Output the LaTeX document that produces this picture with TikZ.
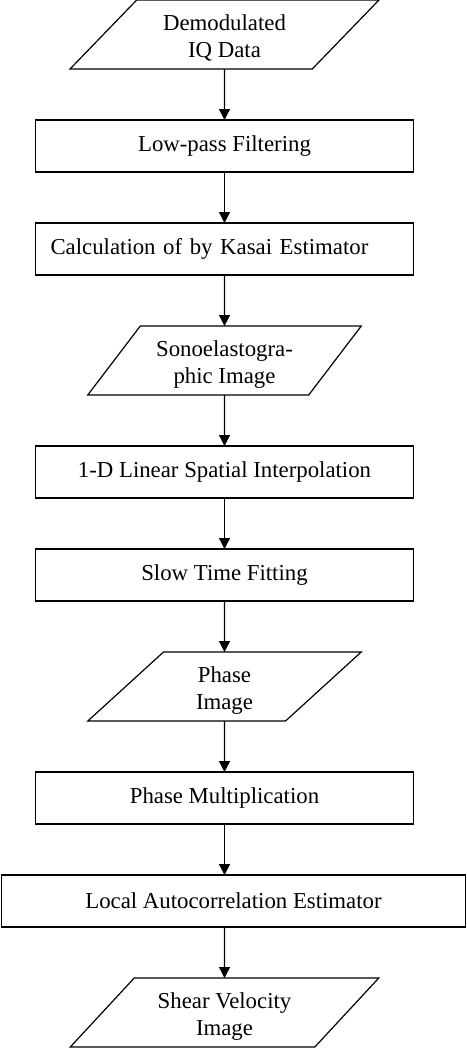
\documentclass[tikz,border=0pt]{standalone}
\usepackage{fontspec}
\setmainfont{Liberation Serif}
\usetikzlibrary{positioning,shapes.geometric,arrows.meta}

\begin{document}
\begin{tikzpicture}
       \newcommand{\nodesep}[0]{25.5pt}
       \newcommand{\nodename}[1]{\begin{tabular}{c}\rule{0pt}{13.45pt}#1\end{tabular}}

       \tikzstyle{block}     = [rectangle, draw, line width=0.6pt, outer sep=0pt, minimum width=189pt, minimum height=26pt, inner sep=0pt, font=\fontsize{11.4}{13.5}\selectfont]
       \tikzstyle{data}      = [trapezium, trapezium left angle=48, trapezium right angle=132, trapezium stretches=true, draw, line width=0.6pt, outer sep=0pt, minimum width=154.5pt, minimum height=34.5pt, inner sep=0pt, font=\fontsize{11.4}{13.5}\selectfont]
       \tikzstyle{smalldata} = [data, trapezium left angle=51, trapezium right angle=129, minimum width=137pt]
       \tikzstyle{connector} = [line width=0.6pt, -{Triangle[length=5.5pt,width=5.5pt]}]

       \useasboundingbox (-112.25pt,17.25pt) rectangle (120.75pt,-507.25pt);

       \node [data] (demod) {\nodename{Demodulated\\IQ Data}};

       \node [block, below = \nodesep of demod] (lowpass) {Low-pass Filtering};

       \node [block, below = \nodesep of lowpass, text width=174pt, align=left, inner xsep=7.5pt] (kasai) {Calculation of by Kasai Estimator};

       \node [smalldata, below = \nodesep of kasai] (sono) {\nodename{Sonoelastogra-\\phic Image}};

       \node [block, below = \nodesep of sono] (interp) {1-D Linear Spatial Interpolation};

       \node [block, below = \nodesep of interp] (slowtime) {Slow Time Fitting};

       \node [smalldata, below = \nodesep of slowtime] (phase) {\nodename{Phase\\Image}};

       \node [block, below = \nodesep of phase] (phasemult) {Phase Multiplication};

       \node [block, below = \nodesep of phasemult, minimum width=232pt, xshift=4.5pt] (autocorr) {Local Autocorrelation Estimator};

       \node [data, below = \nodesep of autocorr, xshift=-4.5pt] (shear) {\nodename{Shear Velocity\\Image}};

       \draw [connector] (demod)     -- (lowpass);
       \draw [connector] (lowpass)   -- (kasai);
       \draw [connector] (kasai)     -- (sono);
       \draw [connector] (sono)      -- (interp);
       \draw [connector] (interp)    -- (slowtime);
       \draw [connector] (slowtime)  -- (phase);
       \draw [connector] (phase)     -- (phasemult);
       \draw [connector] (phasemult.south) -- (phasemult.south |- autocorr.north);
       \draw [connector] (phasemult.south |- autocorr.south) -- (shear);
     \end{tikzpicture}
\end{document}
